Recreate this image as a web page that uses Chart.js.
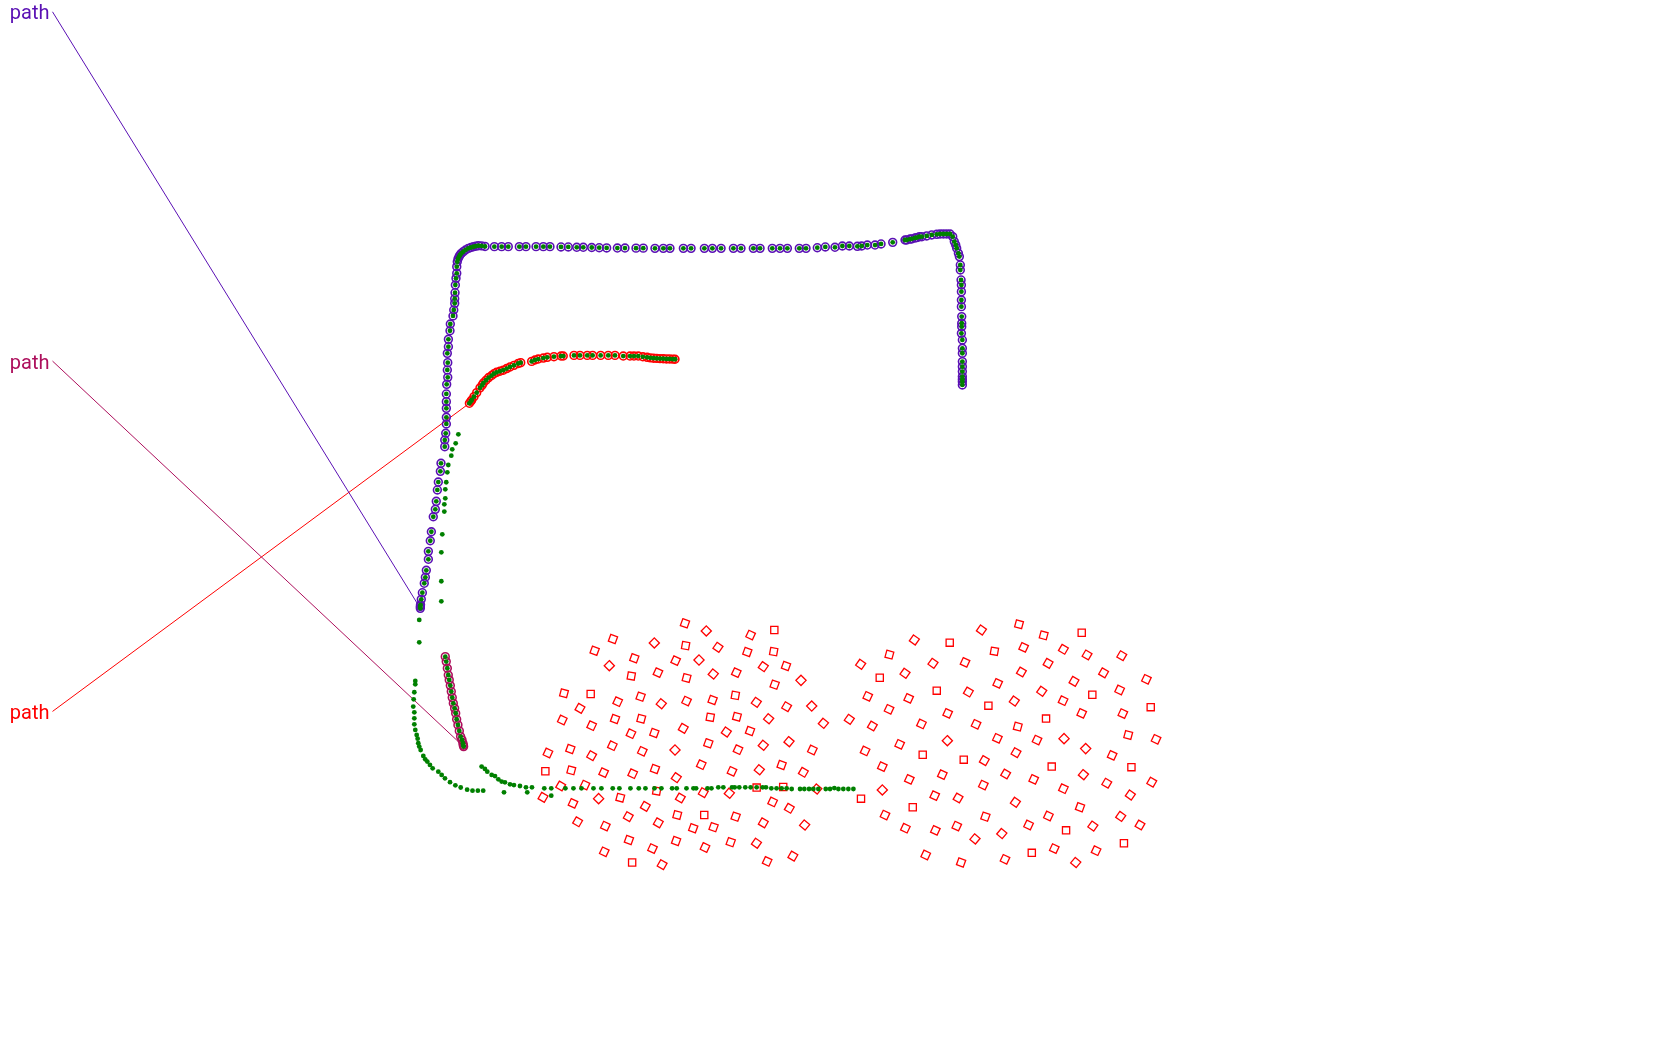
<!DOCTYPE html>
<html>
<head>
<meta charset="utf-8">
<script src="https://cdn.jsdelivr.net/npm/chart.js@4"></script>
<style>
  html, body { margin:0; padding:0; background:#fff; }
  #wrap { width:1680px; height:1050px; }
</style>
</head>
<body>
<div id="wrap"><canvas id="chart" width="1680" height="1050"></canvas></div>
<script>
// ── Plot frame (units) ─────────────────────────────────
const xRange = [0, 1568];
const yRange = [0, 980];

// ── Track labels ───────────────────────────────
const labelNames = ['path', 'path', 'path'];
const labelAnchors = [[49, 11], [49, 337], [49, 664]];

// ── Purple track, starts bottom-left ───────────
const purplePath = [
  [392.3,567.8],[392.3,566],[392.5,564.5],[393.2,559.4],[394.2,553.2],[396,544.4],[397,538.8],[397.9,532.3],
  [399.8,522],[399.8,514.6],[401.6,504.7],[402.6,496.3],[404.4,482.3],[406.3,475.4],[407.2,467.9],[408.2,457.3],
  [409.1,449.9],[411,439.9],[411.6,432.4],[415.1,416.9],[415.1,410.7],[416,404.4],[416.6,395.7],[416.6,389.5],
  [416.6,381.1],[416.6,374.9],[416.6,367.7],[416.9,358.7],[417.9,352.2],[417.5,345.3],[417.9,338.5],[417.5,329.8],
  [418.5,323.6],[418.5,316.7],[420,308.7],[420.3,302.4],[422.8,294.9],[423.5,289.3],[424.4,283.1],[424.4,278.8],
  [424.7,273.2],[425,266],[425.6,259.8],[426.3,255.1],[426.3,248.9],[426.8,244.3],[427.5,241.5],[428.5,239.5],
  [429.3,238],[430.5,236.5],[432.4,234.9],[434.5,233.3],[437.1,231.8],[439.5,231],[441.8,230.3],[444,229.8],
  [446.4,229.3],[449.5,229.5],[452.7,230],[461.4,230.2],[468.2,230.2],[474.4,230.2],[484.7,230.2],[490.9,230.2],
  [500.3,230.2],[507.1,230.2],[513.3,230.2],[523.6,230.5],[530.4,230.5],[538.3,230.8],[544.4,230.8],[552.3,231],
  [559.3,231.2],[566.2,231.4],[576.2,231.5],[583.3,231.5],[593.6,231.6],[600.4,231.6],[611.3,231.8],[619.1,231.8],
  [625.3,231.8],[637.8,231.8],[645,231.8],[657.4,231.8],[664.9,231.8],[673,231.8],[684.5,231.8],[691.6,231.8],
  [703.1,231.8],[709.4,231.8],[720.8,231.8],[728,231.8],[734.9,231.8],[746,231.8],[752.3,231.8],[762.8,231.2],
  [770.3,230.5],[779.3,230.8],[786.2,229.6],[792.7,229.6],[800.2,229.9],[804.2,229.6],[809.5,228.7],[816.7,228.7],
  [822.3,227.7],[833.2,226.2],[844.7,224],[846.3,224],[849.4,223.1],[850.9,223],[854,222.1],[855.6,221.8],
  [858.1,220.9],[860.3,220.9],[864.9,220.2],[869.6,219.3],[874.3,218.7],[877.4,218.4],[880.5,218.4],[883.6,218.4],
  [886.7,218.4],[889.2,220.9],[890.7,225.5],[892,228.6],[892.9,231.7],[894.5,236.4],[895.4,239.5],[896.3,247.3],
  [896.3,252],[897,261.3],[897.3,266],[897.3,272.2],[897.3,280],[897.3,286.2],[897.6,295.5],[897.6,301.7],
  [897.6,304.9],[897.3,311.1],[898.2,317.3],[898.2,325.1],[898.2,329.7],[898.2,337.5],[898.2,342.2],[898.2,346.8],
  [898.2,351.5],[898.2,354],[898.2,356.2],[898.2,359.3]
];

// ── Magenta track, starts at its lower end ─────
const magentaPath = [
  [432.7,696.8],[432.4,695.5],[432.1,693.7],[431.2,690.6],[429.9,687.5],[428.7,682.2],[427.4,676.6],[426.2,671.3],
  [425.3,665.7],[424.3,661.1],[423.1,656.4],[422.1,651.1],[421.2,645.5],[420.3,639.9],[419.3,634.6],[418.4,630],
  [417.5,623.7],[416.5,617.5],[415.6,612.9]
];

// ── Red track, starts at its left end ──────────
const redPath = [
  [438.1,376.4],[439.5,374.5],[440.3,373.3],[442.4,370.2],[444.9,366.5],[448,362],[450,359.5],[451.1,357.5],
  [453.6,354.9],[456.1,352.4],[458.9,350.5],[461,348.8],[463.5,347.5],[466.6,346.5],[469.7,345.5],[472.9,344],
  [476,342.5],[479.7,341],[483.7,339.2],[486,338.5],[496.2,337.3],[499.3,336],[502.4,335.1],[507.1,334.2],
  [510.8,333.5],[517,332.9],[523.6,332.3],[525.7,332.3],[535.7,331.7],[541.3,331.7],[548.1,331.7],[553.1,331.7],
  [560.6,331.7],[567.7,331.7],[574,331.7],[581.7,332.3],[588,332.3],[591.7,332.3],[595.7,332.3],[600,333],
  [604,333.5],[607,334],[610,334.3],[613,334.5],[616,334.7],[619,334.8],[622,335],[625,335],[628,335.2],[630,335.3]
];

// ── Green track (own points only) ──────────────
const greenTrack = [
  [427.8,405.4],[425.3,413.8],[422.1,419.4],[421.2,425.3],[418.4,434],[417.5,440.8],[416.5,450.1],[415.6,456.7],
  [415.6,465.1],[414.7,470.7],[414.7,477.5],[412.8,498.7],[411.9,515.5],[411.9,542.5],[411.9,561.2],[391.3,578.6],
  [391.3,599.5],[387.6,635.6],[387.6,638.7],[386.7,646.1],[386.1,652.7],[385.7,659.5],[386.7,664.8],[386.7,670.4],
  [386.7,676],[387.6,681.3],[388.9,686],[389.8,689.4],[390.4,693.7],[391.3,696.8],[392.6,700],[395.1,705.6],
  [396.9,708.7],[398.8,710.8],[401.3,713.9],[403.8,717.1],[409.1,720.2],[412.2,723.3],[415.3,726.4],[420,730],
  [425,733],[430,735],[436,737],[441,738],[446,738],[451,738],
  [449.5,715.5],[452.6,717.7],[454.8,720.2],[458.9,723.3],[462,724.3],[465.1,727.4],[468.2,729.5],[471.3,730.2],
  [470.4,739.5],[476,732],[479.7,732.7],[485.3,733.6],[490.9,734.8],[492.1,739.5],[496.5,734.8],[508,735.8],
  [514.5,735.8],[514.5,742.6],[527.7,735.8],[535.2,735.8],[542.7,735.8],[553.9,735.8],[561.3,735.8],[571.9,735.8],
  [578.1,735.8],[588.4,735.8],[596.2,735.8],[602.4,735.8],[610.8,735.8],[617.3,735.8],[627.3,735.8],[631.6,735.8],
  [640.7,735.8],[647.2,735.8],[649.7,735.8],[660.3,735.8],[664,735.8],[670.4,734.8],[675.1,734.8],[683.2,734.8],
  [685.7,734.8],[690,734.8],[695.6,734.8],[700.6,734.8],[706.2,734.8],[711.8,734.8],[714.9,734.8],[719.9,735.8],
  [724.8,735.8],[729.5,735.8],[734.2,735.8],[738.9,736.4],[746.7,736.4],[750.7,736.4],[755.1,736.4],[759.1,736.4],
  [763.8,736.4],[770.7,736.4],[774.7,736.4],[778.7,735.5],[782.5,736.4],[787.1,736.4],[791.8,736.4],[796.5,736.4]
];

// ── Red squares: position and tilt in degrees ──
const squarePts = [
  [639.3,581.8],[659.2,588.9],[700.6,592.7],[722.7,588],[572.1,596.4],[610.7,600.1],[639.9,602.6],[670.1,604.2],
  [555,607.3],[592,614.4],[630.6,616.6],[652.4,616],[697.5,608.5],[722.1,608.2],[568.7,621.3],[589.2,630.9],
  [614.1,627.8],[640.8,632.8],[665.7,629.1],[687.2,627.8],[712.4,622.2],[733.6,621.6],[526.4,647.1],[551.3,647.7],
  [541.3,661.1],[576.5,654.9],[597.9,650.2],[617.2,656.8],[640.8,654.3],[665.1,653.3],[686.3,649],[705.9,655.5],
  [723,639],[734.2,659.6],[524.8,672],[552.2,677.3],[574,671.1],[598.5,670.8],[637.7,679.8],[662.9,669.5],
  [687.8,668.9],[717.4,670.8],[588.9,684.8],[610.7,684.1],[677.9,683.2],[700,682.3],[511.4,702.8],[532.3,699.1],
  [552.2,705.3],[571.5,696],[599.5,701.2],[630,700],[661.1,693.8],[688.8,699.7],[712.4,695.6],[736.4,692.2],
  [509,719.9],[533.2,719],[563.4,721.1],[590.5,722.1],[611.3,717.7],[631.2,725.8],[654.5,713.7],[683.2,719.9],
  [708.7,718.4],[729.5,714],[523.3,733.6],[546,732.7],[506.8,744.2],[558.7,745.4],[578.9,744.5],[612.9,738.3],
  [635,744.8],[656.4,739.8],[680.7,740.4],[706.2,735.1],[731,734.5],[534.8,749.8],[602.3,752.6],[632.1,760.7],
  [657.3,760.7],[686.6,762.2],[721.1,748.5],[736.7,754.4],[586.4,762.2],[539.1,767],[712.4,768],[614.4,768],
  [747.6,635],[757.6,659],[768.5,675.1],[758.2,700],[749.8,720.8],[762.3,736.4],[565,771],[647,773],
  [666,772],[751,770],[587,784],[609,792],[631,785],[658,791],[682,786],[706,787],
  [740,799],[564,795],[590,805],[618,807],[716,804],
  [803.6,745.4],[826,760.7],[851.9,753.5],[823.5,737.3],[848.7,727.4],[823.5,715.5],[807.4,700.9],[839.7,694.7],
  [792.7,671.4],[814.2,677.6],[829.8,662],[809.9,649.9],[848.1,651.8],[803.3,620],[830.1,611],[853.4,597.3],
  [821.1,632.5],[844.7,628.4],[874.3,644.6],[870.8,619.1],[886.4,599.8],[900.7,618.2],[903.8,645.9],[884.5,665.8],
  [911,676],[860,675.7],[884.2,691.3],[861.2,704.4],[899.5,709],[879.5,723],[872.4,742.6],[894.2,744.8],
  [918.7,709.9],[917.8,732.7],[919.7,762.2],[930.9,689.1],[922.5,658.6],[931.2,637.8],[928.1,607.9],[916,588],
  [951.1,582.7],[955.4,604.2],[974.1,593],[978.2,619.1],[992.5,606],[1009.6,590.5],[1014.6,611.3],[953.3,627.2],
  [972.3,645.2],[1002.4,635.9],[946.7,654.3],[992.2,654],[1019.5,648.4],[949.9,678.2],[976.3,670.7],[1009.6,665.8],
  [967.9,690.7],[993.1,689.4],[1013.3,698.7],[948.3,702.5],[981.6,715.5],[938.6,722.4],[964.8,727.4],[992.5,736.1],
  [1011.2,723],[947.7,748.8],[978.5,761.6],[1008,753.5],
  [1047,612],[1030,628],[1070,634],[1045,644],[1074,660],[1048,666],[1053,686],[1079,690],
  [1038,705],[1056,716],[1075,730],[1033,731],[1055,742],[1046,762],[1064,770],[1049,787],
  [1020,771],[1023,794],[845,773],[873,775],[893,771],[910,783],[935,778],[960,770],
  [995,775],[864,798],[897,805],[938,802],[963,796],[984,792],[1004,805]
];
const squareTilt = [
  20,45,25,0,20,45,10,35, 20,20,25,45,20,10,45,10, 25,15,40,25,35,20,15,0, 30,25,20,40,25,20,10,35,
  20,30,25,25,20,15,30,10, 15,40,25,20,35,20,25,20, 30,25,25,45,20,25,40,40, 0,15,25,25,20,35,25,25,
  40,20,30,25,30,45,15,10, 30,30,40,0,0,25,30,15, 0,20,25,30,30,30,30,30, 45,45,40,25,30,40,25,20,
  20,40,20,25,20,25,20,35, 30,25,0,30,25,
  0,25,0,45,25,25,25,25, 35,30,25,25,25,35,15,35, 0,35,0,35,0,25,30,25, 25,25,45,0,0,25,25,30,
  30,25,20,25,0,25,10,35, 15,25,15,30,30,0,30,30, 35,30,35,25,0,15,0,25, 25,45,45,30,0,30,25,25,
  40,35,25,20,
  30,30,25,25,0,25,15,25, 25,0,30,30,35,35,30,0, 35,25,25,25,25,40,40,25, 0,25,20,25,0,25,40
];

// ── Colours ───────────────────────────────────
const PURPLE = '#5a10b4';
const MAGENTA = '#ad0f5c';
const RED = '#ff0000';
const GREEN = '#008000';
const trackColors = [PURPLE, MAGENTA, RED];
const tracks = [purplePath, magentaPath, redPath];

const toXY = arr => arr.map(p => ({ x: p[0], y: p[1] }));

function ringSet(path, color) {
    return {
        data: toXY(path), order: 2,
        pointRadius: 3.9, pointBorderWidth: 1.6,
        pointBorderColor: color, pointBackgroundColor: 'rgba(0,0,0,0)'
    };
}
function dotSet(path) {
    return {
        data: toXY(path), order: 0,
        pointRadius: 2.4, pointBorderWidth: 0,
        pointBackgroundColor: GREEN, pointBorderColor: GREEN
    };
}

const datasets = [];
tracks.forEach((t, i) => {
    datasets.push(dotSet(t));
    datasets.push(ringSet(t, trackColors[i]));
});
datasets.push(dotSet(greenTrack));
datasets.push({
    data: toXY(squarePts), order: 1,
    pointStyle: 'rect', pointRotation: squareTilt,
    pointRadius: 5.1, pointBorderWidth: 1.3,
    pointBorderColor: RED, pointBackgroundColor: 'rgba(0,0,0,0)'
});
// leader lines from each label to its track start
labelAnchors.forEach((a, i) => {
    datasets.push({
        type: 'line', order: 3,
        data: [{ x: a[0], y: a[1] }, { x: tracks[i][0][0], y: tracks[i][0][1] }],
        showLine: true, borderColor: trackColors[i], borderWidth: 1,
        pointRadius: 0, fill: false, tension: 0
    });
});

// ── Label text plugin ─────────────────────────
const pathLabels = {
    id: 'pathLabels',
    afterDatasetsDraw(chart) {
        const { ctx, scales } = chart;
        ctx.save();
        ctx.font = '20px Roboto, "Noto Sans", sans-serif';
        ctx.textAlign = 'right';
        ctx.textBaseline = 'alphabetic';
        labelAnchors.forEach((a, i) => {
            const px = scales.x.getPixelForValue(a[0]);
            const py = scales.y.getPixelForValue(a[1]);
            ctx.fillStyle = trackColors[i];
            ctx.fillText(labelNames[i], px - 3, py + 7.5);
        });
        ctx.restore();
    }
};

new Chart(document.getElementById('chart'), {
    type: 'scatter',
    data: { datasets },
    options: {
        responsive: false, animation: false, devicePixelRatio: 1,
        layout: { padding: 0, autoPadding: false },
        plugins: { legend: { display: false }, tooltip: { enabled: false } },
        scales: {
            x: { type: 'linear', min: xRange[0], max: xRange[1], display: false },
            y: { type: 'linear', min: yRange[0], max: yRange[1], reverse: true, display: false }
        }
    },
    plugins: [pathLabels]
});
</script>
</body>
</html>
